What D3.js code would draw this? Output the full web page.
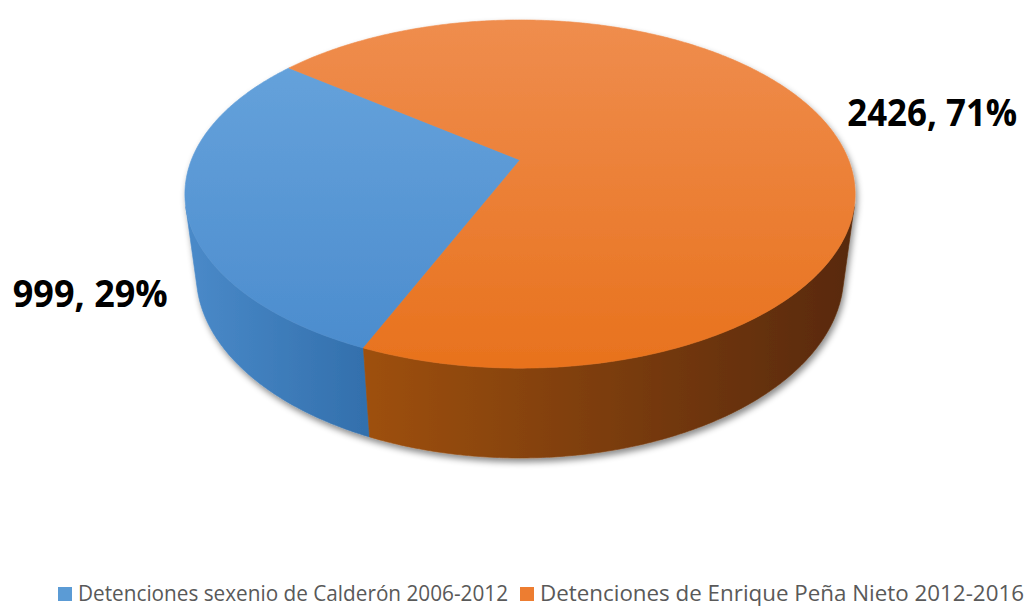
<!DOCTYPE html>
<html>
<head>
<meta charset="utf-8">
<script src="https://cdn.jsdelivr.net/npm/d3@7"></script>
<style>
  html, body { margin: 0; padding: 0; background: #ffffff; }
  svg { display: block; }
</style>
</head>
<body>
<svg id="chart" width="1034" height="606"></svg>
<script>
// ---- data ----
const categories = [
  "Detenciones sexenio de Calderón 2006-2012",
  "Detenciones de Enrique Peña Nieto 2012-2016"
];
const values = [999, 2426];
const topColors = [["#69a5dd", "#4a8bcd"], ["#ef8d4e", "#e8721d"]];
const wallColors = [["#4a8ac9", "#3370ad"], ["#a9560f", "#582908"]];
const legendColors = ["#5b9bd5", "#ed7d31"];

// ---- layout ----
const W = 1034, H = 606;
const svg = d3.select("#chart");
const defs = svg.append("defs");

// perspective view of a tilted disk (radius 1, thickness THICK)
const CX = 520, CY = 160;          // projected centre of the top face
const SIN_A = 0.5095, COS_A = Math.sqrt(1 - SIN_A * SIN_A);
const DIST = 4.40, FOCAL = 1446, THICK = 0.291;
function proj(theta, y, r = 1) {
  const x = r * Math.cos(theta), z = r * Math.sin(theta);
  const depth = DIST - y * SIN_A - z * COS_A;
  const up = y * COS_A - z * SIN_A;
  return [CX + FOCAL * x / depth, CY - FOCAL * up / depth];
}
// wall faces the viewer where sin(theta) > 1 / (DIST * cos a)
const visMin = Math.asin(1 / (DIST * COS_A));
const visMax = Math.PI - visMin;

const firstSlice = 203 * Math.PI / 180;
const pie = d3.pie().sort(null)
  .startAngle(firstSlice).endAngle(firstSlice + 2 * Math.PI);
const arcs = pie(values);
const toTheta = a => a - Math.PI / 2;

const line = d3.line();
function sampleArc(t0, t1, y) {
  const n = Math.max(4, Math.ceil(Math.abs(t1 - t0) / 0.01));
  return d3.range(n + 1).map(i => proj(t0 + (t1 - t0) * i / n, y));
}

// shadow under the solid
const f = defs.append("filter").attr("id", "shadow")
  .attr("x", "-10%").attr("y", "-10%").attr("width", "120%").attr("height", "130%");
f.append("feDropShadow").attr("dx", 2).attr("dy", 4)
  .attr("stdDeviation", 3).attr("flood-color", "#000").attr("flood-opacity", 0.45);

const solid = svg.append("g").attr("filter", "url(#shadow)");

// horizontal gradient for the side walls, vertical one for the top faces
const leftX = proj(visMax, 0)[0], rightX = proj(visMin, 0)[0];
arcs.forEach((d, i) => {
  const g = defs.append("linearGradient").attr("id", "wall" + i)
    .attr("gradientUnits", "userSpaceOnUse")
    .attr("x1", i === 0 ? leftX : proj(toTheta(d.startAngle), 0)[0]).attr("y1", 0)
    .attr("x2", i === 0 ? proj(toTheta(d.startAngle), 0)[0] : rightX).attr("y2", 0);
  g.append("stop").attr("offset", 0).attr("stop-color", wallColors[i][0]);
  g.append("stop").attr("offset", 1).attr("stop-color", wallColors[i][1]);

  const t = defs.append("linearGradient").attr("id", "top" + i)
    .attr("gradientUnits", "userSpaceOnUse")
    .attr("x1", 0).attr("y1", proj(-Math.PI / 2, 0)[1])
    .attr("x2", 0).attr("y2", proj(Math.PI / 2, 0)[1]);
  t.append("stop").attr("offset", 0).attr("stop-color", topColors[i][0]);
  t.append("stop").attr("offset", 1).attr("stop-color", topColors[i][1]);
});

// side walls (only the part that faces the viewer)
arcs.forEach((d, i) => {
  const a0 = toTheta(d.startAngle), a1 = toTheta(d.endAngle);
  for (let k = -2; k <= 2; k++) {
    const lo = Math.max(a0 + k * 2 * Math.PI, visMin);
    const hi = Math.min(a1 + k * 2 * Math.PI, visMax);
    if (hi > lo) {
      const pts = sampleArc(lo, hi, 0).concat(sampleArc(hi, lo, -THICK));
      solid.append("path")
        .attr("d", line(pts) + "Z")
        .attr("fill", `url(#wall${i})`)
        .attr("stroke", `url(#wall${i})`).attr("stroke-width", 0.6);
    }
  }
});

// top faces
arcs.forEach((d, i) => {
  const a0 = toTheta(d.startAngle), a1 = toTheta(d.endAngle);
  const pts = [proj(0, 0, 0)].concat(sampleArc(a0, a1, 0));
  solid.append("path")
    .attr("d", line(pts) + "Z")
    .attr("fill", `url(#top${i})`)
    .attr("stroke", `url(#top${i})`).attr("stroke-width", 0.6);
});

// data labels
const total = d3.sum(values);
const labelText = values.map(v => `${v}, ${Math.round(v / total * 100)}%`);
const labels = [
  { x: leftX - 18, y: 307, anchor: "end", len: 155 },
  { x: rightX - 7, y: 126, anchor: "start", len: 170 }
];
labels.forEach((l, i) => {
  svg.append("text")
    .attr("x", l.x).attr("y", l.y)
    .attr("text-anchor", l.anchor)
    .attr("font-family", "'Open Sans', 'Noto Sans', sans-serif")
    .attr("font-weight", 700).attr("font-size", 38)
    .attr("textLength", l.len).attr("lengthAdjust", "spacingAndGlyphs")
    .attr("fill", "#000")
    .text(labelText[i]);
});

// legend
const legendItems = [
  { x: 58, len: 430 },
  { x: 520, len: 484 }
];
const legend = svg.append("g");
legendItems.forEach((it, i) => {
  legend.append("rect")
    .attr("x", it.x).attr("y", 587).attr("width", 14).attr("height", 14)
    .attr("fill", legendColors[i]);
  legend.append("text")
    .attr("x", it.x + 20).attr("y", 601)
    .attr("font-family", "'Open Sans', 'Noto Sans', sans-serif")
    .attr("font-size", 21)
    .attr("textLength", it.len).attr("lengthAdjust", "spacingAndGlyphs")
    .attr("fill", "#595959")
    .text(categories[i]);
});
</script>
</body>
</html>
